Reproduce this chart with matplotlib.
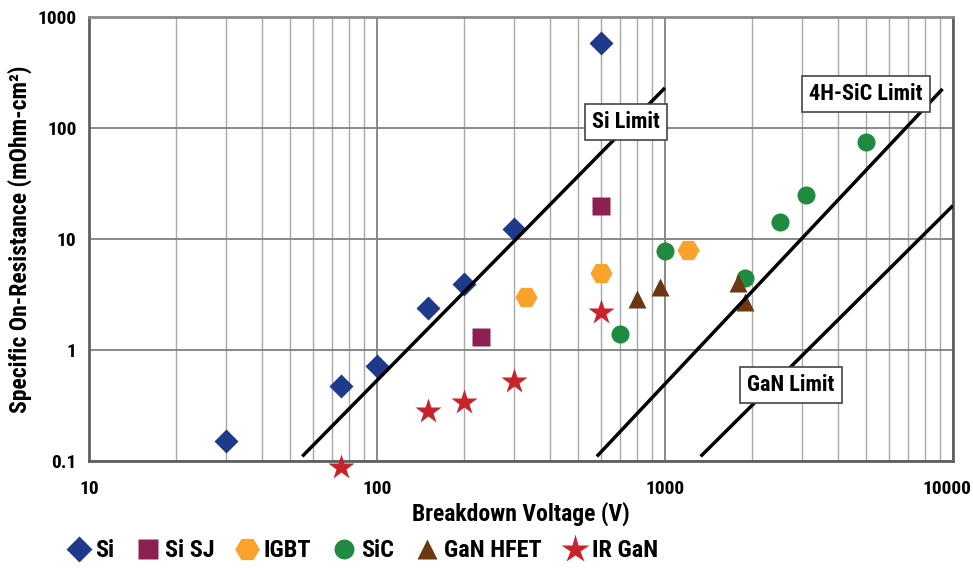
import numpy as np
import matplotlib.pyplot as plt
from matplotlib.ticker import LogLocator, NullFormatter, FixedLocator
from matplotlib.transforms import ScaledTranslation

plt.rcParams['font.family'] = ['Roboto Condensed', 'Roboto', 'DejaVu Sans']
plt.rcParams['font.weight'] = 'bold'
plt.rcParams['axes.labelweight'] = 'bold'

# device data: breakdown voltage (V) and specific on-resistance (mOhm-cm2)
si_v = [30, 75, 100, 150, 200, 300, 600]
si_r = [0.15, 0.47, 0.72, 2.4, 3.9, 12.3, 580]
sisj_v = [230, 600]
sisj_r = [1.3, 20]
igbt_v = [330, 600, 1200]
igbt_r = [3.0, 4.9, 8.0]
sic_v = [700, 1000, 1900, 2500, 3100, 5000]
sic_r = [1.4, 7.8, 4.5, 14.2, 25, 75]
ganhfet_v = [800, 960, 1800, 1900]
ganhfet_r = [2.9, 3.7, 4.0, 2.7]
irgan_v = [75, 150, 200, 300, 600]
irgan_r = [0.088, 0.28, 0.34, 0.53, 2.2]

# material limit lines (end points)
si_lim_v = [55, 1000]
si_lim_r = [0.11, 230]
sic_lim_v = [580, 9200]
sic_lim_r = [0.11, 225]
gan_lim_v = [1330, 10000]
gan_lim_r = [0.11, 20]

fig = plt.figure(figsize=(9.73, 5.68), dpi=100)
ax = fig.add_axes([0.0915, 0.1884, 0.8879, 0.7816])
ax.set_xscale('log')
ax.set_yscale('log')
ax.set_xlim(10, 10000)
ax.set_ylim(0.1, 1000)

ax.xaxis.set_minor_locator(LogLocator(base=10, subs=np.arange(2, 10)))
ax.xaxis.set_minor_formatter(NullFormatter())
ax.yaxis.set_minor_locator(FixedLocator([]))
ax.set_xticks([10, 100, 1000, 10000])
ax.set_xticklabels(['10', '100', '1000', '10000'])
ax.set_yticks([0.1, 1, 10, 100, 1000])
ax.set_yticklabels(['0.1', '1', '10', '100', '1000'])
ax.tick_params(which='both', length=0)
ax.tick_params(axis='x', pad=14, labelsize=14)
ax.tick_params(axis='y', pad=9, labelsize=14)
# keep the last x label inside the figure
last = ax.get_xticklabels()[-1]
last.set_transform(last.get_transform() + ScaledTranslation(-4 / 72, 0, fig.dpi_scale_trans))

ax.grid(which='major', color='#808080', lw=1.3)
ax.grid(which='minor', axis='x', color='#a8a8a8', lw=1.0)
ax.set_axisbelow(True)
for s in ax.spines.values():
    s.set_color('#606060')
    s.set_linewidth(2)
ax.spines['top'].set_color('#8a8a8a')

ms = dict(ls='none', mec='none', zorder=3)
ax.plot(si_v, si_r, marker='D', ms=12, color='#1f3a8a', label='Si', **ms)
ax.plot(sisj_v, sisj_r, marker='s', ms=13, color='#8e1f52', label='Si SJ', **ms)
ax.plot(igbt_v, igbt_r, marker='H', ms=16, color='#f9a22c', label='IGBT', **ms)
ax.plot(sic_v, sic_r, marker='o', ms=13, color='#208a40', label='SiC', **ms)
ax.plot(ganhfet_v, ganhfet_r, marker='^', ms=12.5, color='#6b3812', label='GaN HFET', **ms)
ax.plot(irgan_v, irgan_r, marker='*', ms=19, color='#c8222b', label='IR GaN',
        clip_on=False, **ms)

for v, r in [(si_lim_v, si_lim_r), (sic_lim_v, sic_lim_r), (gan_lim_v, gan_lim_r)]:
    ax.plot(v, r, color='black', lw=2.5, zorder=4, solid_capstyle='butt')

box = dict(boxstyle='square,pad=0.32', fc='white', ec='#444444', lw=1.2)
ax.text(733, 113, 'Si Limit', ha='center', va='center', fontsize=16, bbox=box, zorder=5)
ax.text(4990, 202, '4H-SiC Limit', ha='center', va='center', fontsize=16, bbox=box, zorder=5)
ax.text(2740, 0.48, 'GaN Limit', ha='center', va='center', fontsize=16, bbox=box, zorder=5)

ax.set_xlabel('Breakdown Voltage (V)', fontsize=17, labelpad=2)
ax.set_ylabel('Specific On-Resistance (mOhm-cm\u00b2)', fontsize=17, labelpad=4)

handles, labels = ax.get_legend_handles_labels()
fig.legend(handles, labels, loc='center', bbox_to_anchor=(0.371, 0.03), ncol=6,
           frameon=False, fontsize=17.5, handletextpad=0.1, columnspacing=0.75,
           handlelength=1.2, markerscale=1.1)

fig.savefig('out.png', dpi=100)
